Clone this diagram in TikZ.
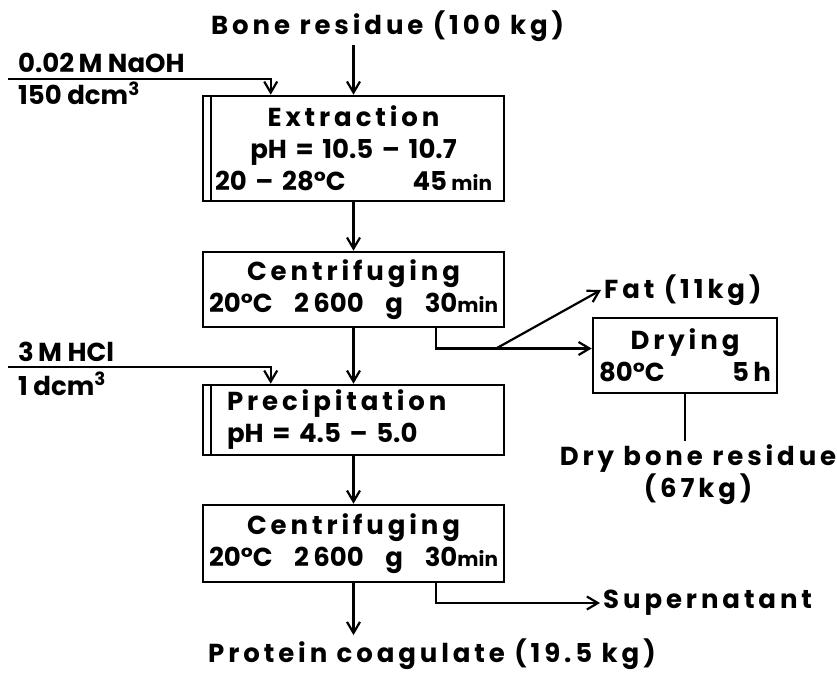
\documentclass[tikz,border=0pt]{standalone}
\usepackage{fontspec}
\setmainfont{Poppins}
\newfontfamily\widefont{Poppins}[LetterSpace=15]
\usetikzlibrary{arrows.meta}
\newcommand\spread{\hskip 0pt plus 1fill\relax}
\newcommand\mn{{\fontsize{20}{20}\selectfont min}}

\begin{document}
\begin{tikzpicture}[x=1pt, y=-1pt,
	every node/.style={font=\fontsize{26}{32}\selectfont\bfseries, inner sep=3pt},
	wide/.style={font=\widefont\fontsize{26}{32}\selectfont\bfseries},
	stepbox/.style={draw, line width=2.6pt, minimum width=301pt, inner sep=5pt, text width=289pt, align=center},
	flow/.style={line width=2.2pt, -{Straight Barb[length=11pt, width=13pt, line width=2.2pt]}}]
	\useasboundingbox (0,0) rectangle (837,676);
	\node[anchor=base west, wide] (bone) at (208,35) {Bone residue (100 kg)};
	\node[anchor=base west] (naoh) at (15,73) {0.02\,M NaOH};
	\node[anchor=base west] (naohvol) at (15,105) {150 dcm\textsuperscript{3}};
	\coordinate (naohin) at (8,79);
	\node[stepbox, minimum height=105pt, text width=277pt] (ext) at (353.5,148.5) {{\widefont Extraction}\\pH = 10.5 – 10.7\\20 – 28°C\spread 45\,\mn};
	\node[stepbox, minimum height=75pt] (cen1) at (353.5,289.5) {{\widefont Centrifuging}\\20°C\spread 2\,600\spread g\spread 30\mn};
	\node[anchor=base west] (hcl) at (15,361) {3\,M HCl};
	\node[anchor=base west] (hclvol) at (15,395) {1 dcm\textsuperscript{3}};
	\coordinate (hclin) at (8,367);
	\node[stepbox, minimum height=70pt, text width=253pt, align=left] (prec) at (353.5,420) {{\widefont Precipitation}\\pH = 4.5 – 5.0};
	\node[stepbox, minimum height=77pt] (cen2) at (353.5,543.5) {{\widefont Centrifuging}\\20°C\spread 2\,600\spread g\spread 30\mn};
	\node[anchor=base west, wide] (prot) at (205,662) {Protein coagulate (19.5 kg)};
	\node[anchor=west, wide] (fat) at (601,290) {Fat (11kg)};
	\node[stepbox, minimum width=184pt, minimum height=75pt, text width=172pt] (dry) at (685,355.5) {{\widefont Drying}\\80°C\spread 5\,h};
	\node[anchor=north, align=center, wide] (drybone) at (698,441) {Dry bone residue\\(67kg)};
	\node[anchor=west, wide] (sup) at (600,603) {Supernatant};
	\coordinate (split) at (497,348);
	\foreach \b in {ext, prec}
		\draw[line width=2.2pt] ([xshift=9pt]\b.north west) -- ([xshift=9pt]\b.south west);
	\draw[flow] (bone.south -| ext.north) -- (ext.north);
	\draw[flow] (naohin) -| ([xshift=69pt]ext.north west);
	\foreach \a/\b in {ext/cen1, cen1/prec, prec/cen2}
		\draw[flow] (\a) -- (\b);
	\draw[flow] (hclin) -| ([xshift=69pt]prec.north west);
	\draw[flow] ([xshift=234pt]cen1.south west) |- ([yshift=7pt]dry.west);
	\draw[flow] (split) -- (fat.west);
	\draw[line width=2.2pt] (dry.south) -- (dry.south |- drybone.north);
	\draw[flow] ([xshift=234pt]cen2.south west) |- (sup.west);
	\draw[flow] (cen2) -- (cen2.south |- prot.north);
\end{tikzpicture}
\end{document}
